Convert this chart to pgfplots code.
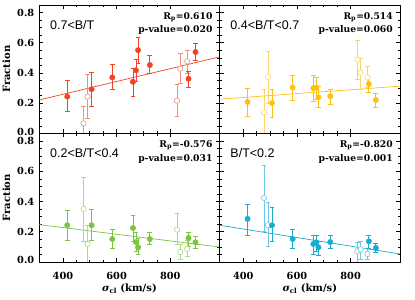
\documentclass[border=0pt]{standalone}
\usepackage{fontspec}
\setmainfont{DejaVu Serif}
\newfontfamily\hv{Liberation Sans}
\usepackage{pgfplots}
\usepackage{pgfplotstable}
\usepgfplotslibrary{groupplots}
\pgfplotsset{compat=1.18}

\definecolor{cR}{RGB}{240,68,36}
\definecolor{cRl}{RGB}{245,140,118}
\definecolor{cY}{RGB}{255,192,20}
\definecolor{cYl}{RGB}{255,212,100}
\definecolor{cG}{RGB}{122,196,62}
\definecolor{cGl}{RGB}{170,218,130}
\definecolor{cB}{RGB}{24,172,206}
\definecolor{cBl}{RGB}{110,202,226}

% panel 1: 0.7<B/T
\pgfplotstableread{
x y hi lo
416 0.244 0.348 0.144
507 0.293 0.404 0.178
584 0.371 0.460 0.289
661 0.342 0.429 0.244
672 0.418 0.489 0.344
680 0.551 0.633 0.467
724 0.453 0.515 0.395
868 0.362 0.411 0.307
894 0.539 0.593 0.484
}\aF
\pgfplotstableread{
x y hi lo
477 0.067 0.178 -0.03
492 0.244 0.389 0.100
825 0.217 0.322 0.111
837 0.429 0.533 0.333
863 0.477 0.551 0.395
}\aO
% panel 2: 0.4<B/T<0.7
\pgfplotstableread{
x y hi lo
416 0.209 0.300 0.115
507 0.202 0.295 0.107
584 0.304 0.384 0.222
661 0.300 0.384 0.211
672 0.304 0.373 0.227
680 0.240 0.311 0.173
724 0.247 0.295 0.195
868 0.327 0.371 0.271
894 0.222 0.267 0.173
}\bF
\pgfplotstableread{
x y hi lo
477 0.140 0.293 -0.03
492 0.373 0.540 0.200
825 0.489 0.615 0.356
837 0.402 0.500 0.293
863 0.371 0.444 0.307
}\bO
% panel 3: 0.2<B/T<0.4
\pgfplotstableread{
x y hi lo
416 0.243 0.342 0.146
507 0.243 0.351 0.141
584 0.152 0.214 0.088
661 0.225 0.307 0.137
672 0.132 0.199 0.071
680 0.097 0.154 0.048
724 0.152 0.197 0.115
868 0.159 0.199 0.104
894 0.130 0.170 0.093
}\cF
\pgfplotstableread{
x y hi lo
477 0.351 0.561 0.137
492 0.119 0.240 -0.03
825 0.214 0.320 0.115
837 0.066 0.115 0.015
863 0.086 0.141 0.038
}\cO
% panel 4: B/T<0.2
\pgfplotstableread{
x y hi lo
416 0.285 0.384 0.177
507 0.243 0.358 0.137
584 0.152 0.214 0.093
661 0.119 0.177 0.053
672 0.130 0.177 0.071
680 0.097 0.137 0.044
724 0.132 0.174 0.088
868 0.137 0.174 0.093
894 0.093 0.126 0.066
}\dF
\pgfplotstableread{
x y hi lo
477 0.424 0.640 0.203
492 0.243 0.397 0.104
825 0.071 0.132 -0.03
837 0.084 0.137 0.015
863 0.053 0.093 0.020
}\dO

\pgfplotsset{
  filled/.style={only marks, mark=*, mark size=2.7pt, color=#1,
    mark options={fill=#1, draw=#1, line width=0.4pt},
    error bars/.cd, y dir=both, y explicit,
    error bar style={line width=0.8pt, #1},
    error mark options={rotate=90, mark size=2.4pt, line width=0.8pt, #1}},
  hollow/.style={only marks, mark=*, mark size=2.7pt, color=#1,
    mark options={fill=white, draw=#1, line width=0.6pt},
    error bars/.cd, y dir=both, y explicit,
    error bar style={line width=0.8pt, #1},
    error mark options={rotate=90, mark size=2.4pt, line width=0.8pt, #1}},
  /pgfplots/table/errtab/.style={x=x, y=y, y error plus expr=\thisrow{hi}-\thisrow{y},
    y error minus expr=\thisrow{y}-\thisrow{lo}},
}

\newcommand{\panellabel}[1]{\node[anchor=base west, inner sep=0pt,
  font=\hv\fontsize{12.5}{14}\selectfont] at (rel axis cs:0.059,0.813) {#1};}
\newcommand{\stats}[2]{%
  \node[anchor=east, inner sep=0pt, font=\fontsize{9.2}{10}\selectfont\bfseries]
    at (rel axis cs:0.961,0.907) {R\textsubscript{p}=#1};
  \node[anchor=east, inner sep=0pt, font=\fontsize{9.2}{10}\selectfont\bfseries]
    at (rel axis cs:0.961,0.805) {p-value=#2};}

\begin{document}
\begin{tikzpicture}
\begin{groupplot}[
  group style={group size=2 by 2, horizontal sep=0pt, vertical sep=0pt},
  width=180.35pt, height=128.5pt, scale only axis,
  xmin=312, xmax=984, ymin=0, ymax=0.85,
  xtick={400,600,800}, minor x tick num=3,
  ytick={0,0.2,0.4,0.6,0.8}, minor y tick num=3,
  xticklabels={}, yticklabels={},
  xtick pos=both, ytick pos=both,
  xticklabel pos=bottom, yticklabel pos=left,
  major tick length=4pt, minor tick length=2.2pt,
  tick style={black, line width=0.6pt},
  axis line style={black, line width=0.8pt},
  tick label style={font=\fontsize{9.8}{11}\selectfont\bfseries},
  yticklabel style={xshift=-1.5pt},
  xticklabel style={yshift=-7pt},
  label style={font=\fontsize{10}{12}\selectfont\bfseries},
  ylabel style={at={(axis description cs:-0.183,0.5)}, anchor=center},
  xlabel style={at={(axis description cs:0.5,-0.21)}, anchor=center},
]
\nextgroupplot[ylabel={Fraction},
  yticklabels={{\raisebox{2.5pt}{0.0}},0.2,0.4,0.6,0.8}]
\addplot[cR, line width=0.7pt] coordinates {(312,0.222) (984,0.507)};
\addplot[hollow=cRl] table[errtab] {\aO};
\addplot[filled=cR] table[errtab] {\aF};
\panellabel{0.7<B/T}
\stats{0.610}{0.020}

\nextgroupplot
\addplot[cY, line width=0.7pt] coordinates {(312,0.227) (984,0.313)};
\addplot[hollow=cYl] table[errtab] {\bO};
\addplot[filled=cY] table[errtab] {\bF};
\panellabel{0.4<B/T<0.7}
\stats{0.514}{0.060}

\nextgroupplot[ylabel={Fraction},
  yticklabels={{\raisebox{4pt}{0.0}},0.2,0.4,0.6,0.8},
  xticklabels={400,600,800},
  xlabel={{\itshape σ}\textsubscript{cl} (km/s)}]
\addplot[cG, line width=0.7pt] coordinates {(312,0.247) (984,0.099)};
\addplot[hollow=cGl] table[errtab] {\cO};
\addplot[filled=cG] table[errtab] {\cF};
\panellabel{0.2<B/T<0.4}
\stats{-0.576}{0.031}

\nextgroupplot[xticklabels={400,600,800},
  xlabel={{\itshape σ}\textsubscript{cl} (km/s)}]
\addplot[cB, line width=0.7pt] coordinates {(312,0.243) (984,0.053)};
\addplot[hollow=cBl] table[errtab] {\dO};
\addplot[filled=cB] table[errtab] {\dF};
\panellabel{B/T<0.2}
\stats{-0.820}{0.001}
\end{groupplot}
\pgfresetboundingbox
\path[use as bounding box] ([shift={(-39.3pt,-37.5pt)}]group c1r2.south west)
  rectangle ([shift={(15pt,5pt)}]group c2r1.north east);
\end{tikzpicture}
\end{document}
